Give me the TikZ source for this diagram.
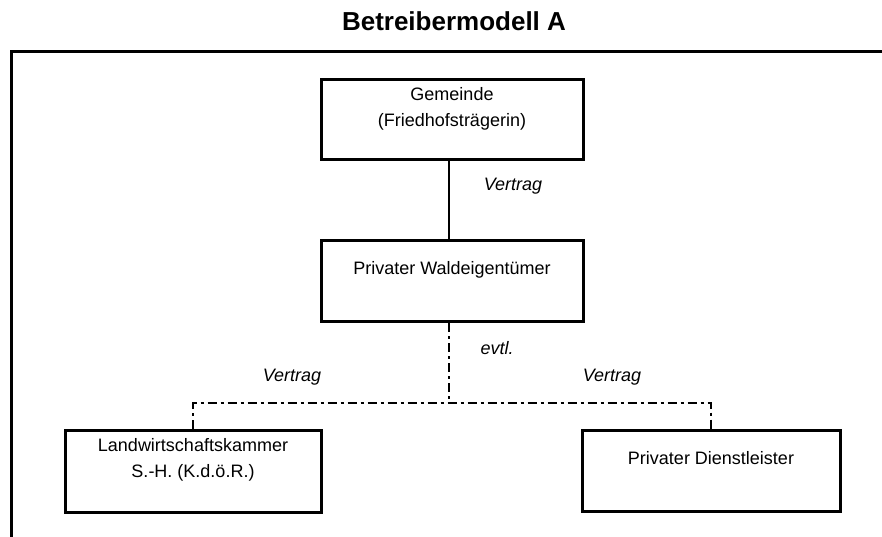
\documentclass[tikz,border=0pt]{standalone}
\usepackage{fontspec}
\setmainfont{Liberation Sans}
\usetikzlibrary{positioning}

\begin{document}
\begin{tikzpicture}[
    x=1pt, y=-1pt,
    party/.style={rectangle, draw, line width=3pt, align=center, inner sep=0pt, font=\fontsize{18}{26}\selectfont},
    contract/.style={line width=2pt},
    optional/.style={line width=2.5pt, dash pattern=on 9pt off 4pt on 3pt off 4pt},
    tag/.style={font=\fontsize{18}{22}\selectfont\itshape}
]
\useasboundingbox (0,0) rectangle (882,537);

% Title and frame
\node[font=\fontsize{26}{30}\selectfont\bfseries] (title) at (454,21) {Betreibermodell A};
\draw[line width=3pt] (882,52) -- (11,52) -- (11,537);

% Parties
\node[party, minimum width=262pt, minimum height=80pt] (gemeinde) at (452,120) {Gemeinde\\(Friedhofstr\"agerin)\\\mbox{}};
\node[party, minimum width=262pt, minimum height=81pt] (wald) at (452,281) {Privater Waldeigent\"umer\\\mbox{}};
\node[party, minimum width=256pt, minimum height=82pt] (kammer) at (193,471) {Landwirtschaftskammer\\S.-H. (K.d.\"o.R.)\\\mbox{}};
\node[party, minimum width=258pt, minimum height=81pt] (dienst) at (711,471) {Privater Dienstleister\\\mbox{}};

% Relations
\coordinate (split) at (449,403);
\draw[contract] (gemeinde.south -| split) -- (wald.north -| split);
\draw[optional] (wald.south -| split) -- (split);
\draw[optional] (kammer.north) |- (split) -| (dienst.north);

% Labels
\node[tag] (vertragoben) at (513,186) {Vertrag};
\node[tag] (evtl) at (497,348) {evtl.};
\node[tag] (vertraglinks) at (292,377) {Vertrag};
\node[tag] (vertragrechts) at (612,377) {Vertrag};

\end{tikzpicture}
\end{document}
